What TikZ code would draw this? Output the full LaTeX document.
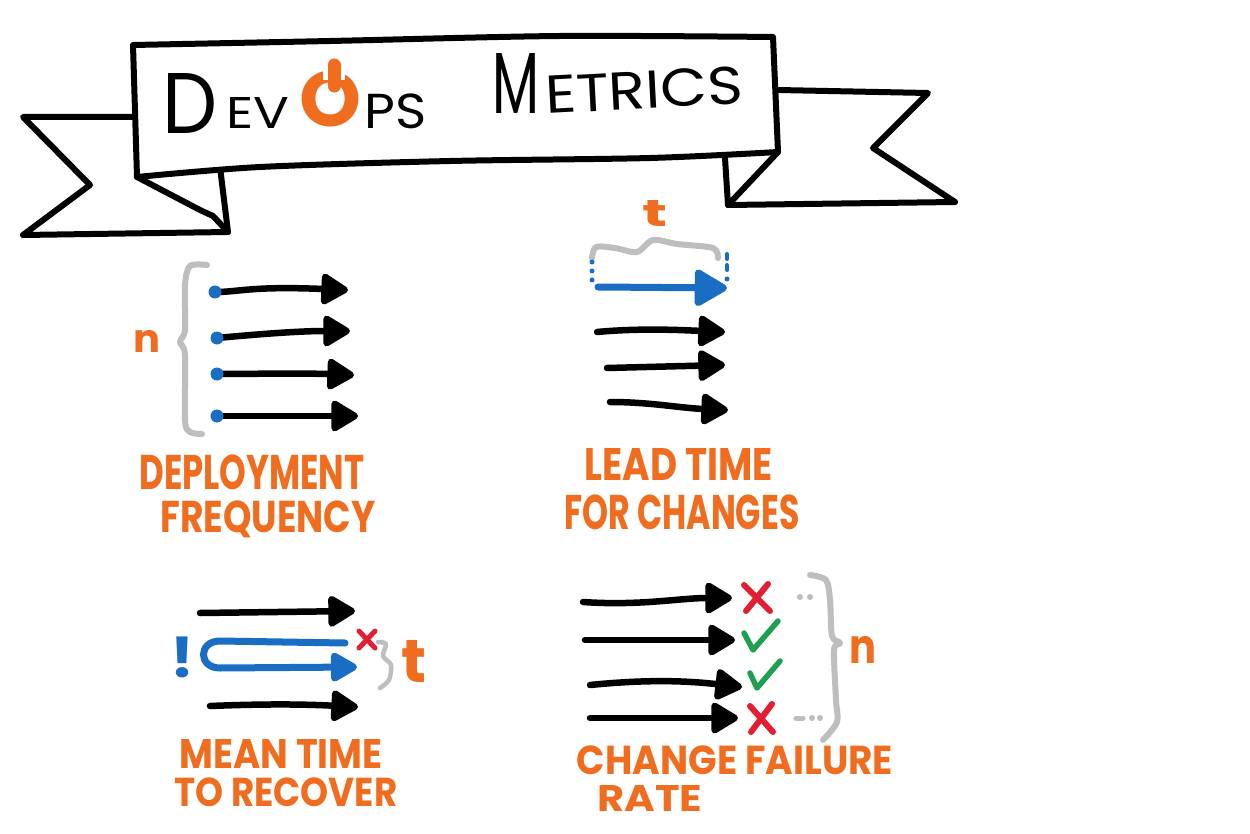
\documentclass[tikz,border=0pt]{standalone}
\usepackage{fontspec}
\setmainfont{Poppins}
\usepackage{graphicx}
\usetikzlibrary{arrows.meta}
\definecolor{skorange}{RGB}{240,108,30}
\definecolor{skblue}{RGB}{25,110,195}
\definecolor{skred}{RGB}{225,30,50}
\definecolor{skgreen}{RGB}{30,160,80}
\definecolor{skgray}{RGB}{190,190,190}
\newcommand{\fitbox}[3]{\resizebox*{#1pt}{#2pt}{\bfseries #3}}
\newcommand{\fitthin}[3]{\resizebox*{#1pt}{#2pt}{#3}}
\begin{document}
\begin{tikzpicture}[x=1pt,y=-1pt,
  ink/.style={line width=6pt, line cap=round, line join=round},
  blkarrow/.style={line width=6.5pt, line cap=round, draw=black,
    -{Triangle[length=30pt,width=34pt,round]}},
  bluearrow/.style={line width=7pt, line cap=round, draw=skblue,
    -{Triangle[length=36pt,width=40pt,round]}},
  bracestyle/.style={line width=6pt, line cap=round, line join=round, draw=skgray},
  lbl/.style={inner sep=0pt, text=skorange},
  ttl/.style={inner sep=0pt, text=black},
  dotb/.style={fill=skblue},
  crossline/.style={line width=5pt, line cap=round, draw=skred},
  checkline/.style={line width=5.5pt, line cap=round, line join=round, draw=skgreen}]
\useasboundingbox[fill=white] (0,0) rectangle (1250,834);

% ---------- banner ----------
\draw[ink, fill=white] (137,117) -- (23,117) -- (90,185) -- (23,235) -- (228,232) -- (220,167);
\draw[ink] (137,177) -- (200,210) -- (213,216) -- (228,232);
\draw[ink, fill=white] (778,90) -- (928,93) -- (873,148) -- (955,202) -- (728,205) -- (725,158);
\draw[ink] (778,152) -- (728,205);
\draw[ink, fill=white] plot[smooth] coordinates {(133,45) (330,41) (560,36) (773,37)}
  -- (778,152) -- plot[smooth] coordinates {(778,152) (650,158) (450,161) (260,167) (137,177)} -- cycle;

% title
\node[ttl] (tD) at (190,103) {\fitthin{55}{60}{D}};
\node[ttl] (tEV) at (258,113) {\fitthin{63}{31}{EV}};
\node[inner sep=0pt, text=skorange] (tO) at (330,99) {\fitbox{62}{56}{O}};
\draw[white, line width=22pt] (334,66) -- (334,80);
\draw[skorange, line width=13pt, line cap=round] (334,65) -- (334,86);
\node[ttl] (tPS) at (396,111) {\fitthin{62}{35}{PS}};
\node[ttl] (tM) at (516,83) {\fitthin{47}{60}{M}};
\node[ttl, rotate=3] (tETRICS) at (644,90) {\fitthin{198}{38}{ETRICS}};

% ---------- Deployment frequency ----------
\draw[bracestyle] plot[smooth] coordinates {(207,265) (190,266) (185,285) (185,330) (180,342) (185,355) (185,420) (190,432) (202,434)};
\node[lbl] (dfn) at (147,341) {\fitbox{27}{22}{n}};
\coordinate (d1s) at (215,292); \coordinate (d1e) at (348,290);
\coordinate (d2s) at (217,338); \coordinate (d2e) at (350,331);
\coordinate (d3s) at (217,374); \coordinate (d3e) at (354,375);
\coordinate (d4s) at (217,416); \coordinate (d4e) at (358,416);
\draw[blkarrow] (d1s) .. controls (240,292) and (250,286) .. (d1e);
\draw[blkarrow] (d2s) .. controls (260,334) and (300,331) .. (d2e);
\draw[blkarrow] (d3s) .. controls (250,374) and (300,373) .. (d3e);
\draw[blkarrow] (d4s) -- (d4e);
\foreach \p in {d1s,d2s,d3s,d4s} \fill[dotb] (\p) circle (6.5pt);
\node[lbl] (dfl1) at (252,472) {\fitbox{225}{35}{DEPLOYMENT}};
\node[lbl] (dfl2) at (268,519) {\fitbox{215}{37}{FREQUENCY}};

% ---------- Lead time for changes ----------
\node[lbl] (ltt) at (655,213) {\fitbox{25}{26}{t}};
\draw[bracestyle] plot[smooth] coordinates {(592,258) (596,247) (615,248) (637,252) (653,240) (677,244) (713,248) (718,258)};
\foreach \y in {262,271,280} \fill[skblue] (592,\y) circle (2.5pt);
\draw[skblue, line width=4pt, line cap=round] (727,254) -- (727,259);
\draw[skblue, line width=4pt, line cap=round] (727,265) -- (727,270);
\fill[skblue] (727,279) circle (2.5pt);
\coordinate (l0s) at (598,287); \coordinate (l0e) at (727,288);
\coordinate (l1s) at (597,332); \coordinate (l1e) at (725,332);
\coordinate (l2s) at (607,368); \coordinate (l2e) at (725,365);
\coordinate (l3s) at (610,402); \coordinate (l3e) at (728,410);
\draw[bluearrow] (l0s) -- (l0e);
\draw[blkarrow] (l1s) .. controls (640,328) and (680,330) .. (l1e);
\draw[blkarrow] (l2s) -- (l2e);
\draw[blkarrow] (l3s) .. controls (650,402) and (680,408) .. (l3e);
\node[lbl] (ltl1) at (679,464) {\fitbox{188}{32}{LEAD TIME}};
\node[lbl] (ltl2) at (682,512) {\fitbox{235}{35}{FOR CHANGES}};

% ---------- Mean time to recover ----------
\coordinate (m1s) at (200,613); \coordinate (m1e) at (355,611);
\coordinate (m2s) at (345,643); \coordinate (m2e) at (357,667);
\coordinate (m3s) at (210,706); \coordinate (m3e) at (358,707);
\draw[blkarrow] (m1s) -- (m1e);
\draw[bluearrow, -{Triangle[length=30pt,width=32pt,round]}] (m2s) -- (220,641) .. controls (198,641) and (198,668) .. (220,668) -- (m2e);
\draw[blkarrow] (m3s) .. controls (260,704) and (300,704) .. (m3e);
\node[inner sep=0pt, text=skblue] (mex) at (182,657) {\fitbox{24}{41}{!}};
\draw[crossline] (359,631) -- (375,648);
\draw[crossline] (375,631) -- (359,648);
\draw[bracestyle, line width=4.5pt] plot[smooth] coordinates {(378,642) (386,644) (383,656) (391,665) (389,680) (380,688)};
\node[lbl] (mtt) at (414,661) {\fitbox{25}{42}{t}};
\node[lbl] (mtl1) at (281,754) {\fitbox{203}{29}{MEAN TIME}};
\node[lbl] (mtl2) at (286,792) {\fitbox{223}{29}{TO RECOVER}};

% ---------- Change failure rate ----------
\coordinate (c1s) at (583,602); \coordinate (c1e) at (732,598);
\coordinate (c2s) at (585,640); \coordinate (c2e) at (735,640);
\coordinate (c3s) at (590,685); \coordinate (c3e) at (742,687);
\coordinate (c4s) at (590,718); \coordinate (c4e) at (738,718);
\draw[blkarrow] (c1s) .. controls (640,606) and (680,598) .. (c1e);
\draw[blkarrow] (c2s) -- (c2e);
\draw[blkarrow] (c3s) .. controls (640,680) and (680,680) .. (c3e);
\draw[blkarrow] (c4s) -- (c4e);
\draw[crossline, line width=6pt] (744,585) -- (770,611);
\draw[crossline, line width=6pt] (768,584) -- (746,611);
\draw[checkline] (744,633) -- (753,650) -- (778,621);
\draw[checkline] (750,673) -- (757,688) -- (780,661);
\draw[crossline, line width=6pt] (750,706) -- (773,732);
\draw[crossline, line width=6pt] (772,704) -- (751,732);
\fill[skgray] (800,597) circle (3pt) (810,597) circle (3pt);
\draw[skgray, line width=5pt, line cap=round] (796,718) -- (803,718);
\fill[skgray] (812,718) circle (3pt) (820,718) circle (3pt);
\draw[bracestyle] plot[smooth] coordinates {(810,575) (826,580) (830,600) (832,636) (840,643) (834,650) (836,700) (837,722) (823,740)};
\node[lbl] (cfn) at (863,650) {\fitbox{27}{27}{n}};
\node[lbl] (cfl1) at (735,760) {\fitbox{316}{29}{CHANGE FAILURE}};
\node[lbl] (cfl2) at (650,798) {\fitbox{105}{26}{RATE}};
\end{tikzpicture}
\end{document}
